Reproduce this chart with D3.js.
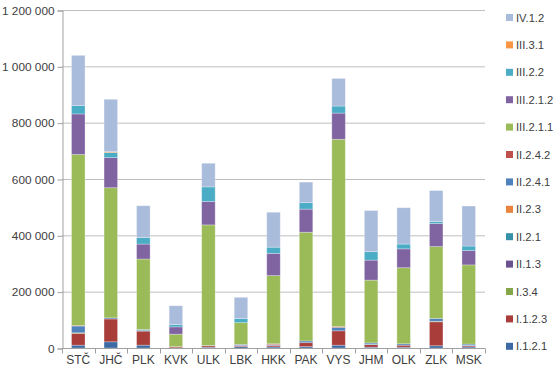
<!DOCTYPE html>
<html>
<head>
<meta charset="utf-8">
<script src="https://cdn.jsdelivr.net/npm/d3@7"></script>
<style>
body { margin: 0; background: #fff; }
text { font-family: "Liberation Sans", Arial, sans-serif; fill: #404040; }
</style>
</head>
<body>
<svg width="560" height="370"></svg>
<script>
var regions = ['STČ', 'JHČ', 'PLK', 'KVK', 'ULK', 'LBK', 'HKK', 'PAK', 'VYS', 'JHM', 'OLK', 'ZLK', 'MSK'];
var series = ['I.1.2.1', 'I.1.2.3', 'I.3.4', 'II.1.3', 'II.2.1', 'II.2.3', 'II.2.4.1', 'II.2.4.2',
    'III.2.1.1', 'III.2.1.2', 'III.2.2', 'III.3.1', 'IV.1.2'];
var colors = ['#3c6aa5', '#a93d3a', '#86a64a', '#6a5190', '#3590a8', '#e8823c', '#4f81bd', '#c0504d',
    '#9bbb59', '#8064a2', '#4bacc6', '#f79646', '#aabcdb'];

// values per series, one per region (same order as regions)
var v_I121   = [10000, 22000, 10000, 1000, 3000, 5000, 4000, 5000, 10000, 3000, 3000, 8000, 4000];
var v_I123   = [42000, 81000, 50000, 4000, 5000, 3000, 5000, 14000, 51000, 9000, 7000, 85000, 4000];
var v_I34    = [2000, 0, 0, 0, 0, 0, 0, 0, 0, 0, 0, 2000, 0];
var v_II13   = [0, 0, 0, 0, 0, 2000, 0, 0, 0, 0, 0, 0, 0];
var v_II21   = [0, 0, 3000, 0, 0, 0, 0, 0, 0, 2000, 0, 0, 2000];
var v_II23   = [0, 0, 0, 0, 0, 0, 0, 0, 0, 0, 0, 0, 0];
var v_II241  = [24000, 4000, 3000, 0, 1000, 3000, 3000, 6000, 12000, 4000, 5000, 10000, 4000];
var v_II242  = [2000, 0, 0, 0, 0, 0, 3000, 0, 3000, 0, 0, 0, 0];
var v_III211 = [607000, 462000, 250000, 44000, 428000, 77000, 242000, 386000, 665000, 223000, 270000, 255000, 281000];
var v_III212 = [144000, 107000, 53000, 26000, 83000, 0, 79000, 82000, 93000, 71000, 67000, 82000, 51000];
var v_III22  = [30000, 18000, 23000, 8000, 52000, 15000, 22000, 23000, 25000, 30000, 17000, 7000, 16000];
var v_III31  = [0, 3000, 0, 0, 0, 0, 0, 0, 0, 0, 0, 0, 0];
var v_IV12   = [178000, 186000, 113000, 67000, 84000, 75000, 124000, 73000, 98000, 146000, 129000, 110000, 142000];

var yTicks = [0, 200000, 400000, 600000, 800000, 1000000, 1200000];

var allValues = [v_I121, v_I123, v_I34, v_II13, v_II21, v_II23, v_II241, v_II242,
    v_III211, v_III212, v_III22, v_III31, v_IV12];

var rows = regions.map(function (r, i) {
    var row = { region: r };
    series.forEach(function (s, k) { row[s] = allValues[k][i]; });
    return row;
});

var margin = { left: 62, right: 75, top: 10, bottom: 22 };
var W = 560, H = 370;
var svg = d3.select('svg');

var x = d3.scaleBand()
    .domain(regions)
    .range([margin.left, W - margin.right])
    .paddingInner(0.585)
    .paddingOuter(0.2925);

var y = d3.scaleLinear()
    .domain([0, 1200000])
    .range([H - margin.bottom, margin.top]);

var fmt = function (d) { return d3.format(',')(d).replace(/,/g, ' '); };

// gridlines
svg.append('g')
    .selectAll('line')
    .data(yTicks.slice(1))
    .enter().append('line')
    .attr('x1', margin.left).attr('x2', W - margin.right)
    .attr('y1', function (d) { return y(d) + 0.5; })
    .attr('y2', function (d) { return y(d) + 0.5; })
    .attr('stroke', '#bebebe').attr('stroke-width', 1);

var yAxis = svg.append('g')
    .attr('transform', 'translate(' + (margin.left + 0.5) + ',0.5)')
    .call(d3.axisLeft(y).tickValues(yTicks).tickFormat(fmt).tickSize(5).tickPadding(3));
yAxis.selectAll('line, path').attr('stroke', '#a0a0a0');
yAxis.selectAll('text').attr('font-size', 11.8).attr('fill', '#404040')
    .attr('font-family', '"Liberation Sans", Arial, sans-serif');

var stack = d3.stack().keys(series);
var layers = stack(rows);

svg.append('g')
    .selectAll('g')
    .data(layers)
    .enter().append('g')
    .attr('fill', function (d, i) { return colors[i]; })
    .selectAll('rect')
    .data(function (d) { return d; })
    .enter().append('rect')
    .filter(function (d) { return d[1] - d[0] > 0; })
    .attr('x', function (d) { return x(d.data.region); })
    .attr('y', function (d) { return y(d[1]); })
    .attr('width', x.bandwidth())
    .attr('height', function (d) { return y(d[0]) - y(d[1]); })
    .attr('stroke', 'rgba(255,255,255,0.35)')
    .attr('stroke-width', 0.8);

// x axis
var xAxisG = svg.append('g')
    .attr('transform', 'translate(0,' + (y(0) + 0.5) + ')');
xAxisG.append('line')
    .attr('x1', margin.left).attr('x2', W - margin.right)
    .attr('stroke', '#a0a0a0');
var step = x.step();
xAxisG.selectAll('line.tick')
    .data(d3.range(regions.length + 1))
    .enter().append('line')
    .attr('class', 'tick')
    .attr('x1', function (i) { return Math.round(margin.left + i * step) + 0.5; })
    .attr('x2', function (i) { return Math.round(margin.left + i * step) + 0.5; })
    .attr('y1', 0).attr('y2', 5)
    .attr('stroke', '#a0a0a0');
xAxisG.selectAll('text')
    .data(regions)
    .enter().append('text')
    .attr('x', function (d) { return x(d) + x.bandwidth() / 2; })
    .attr('y', 15)
    .attr('text-anchor', 'middle')
    .attr('font-size', 12)
    .text(function (d) { return d; });

// legend, top entry is the last series
var legend = svg.append('g');
var legendItems = series.slice().reverse();
legend.selectAll('g')
    .data(legendItems)
    .enter().append('g')
    .attr('transform', function (d, i) { return 'translate(506,' + (17.5 + i * 27.4) + ')'; })
    .each(function (d) {
        var g = d3.select(this);
        g.append('rect')
            .attr('x', 0).attr('y', -3.5)
            .attr('width', 7).attr('height', 7)
            .attr('fill', colors[series.indexOf(d)]);
        g.append('text')
            .attr('x', 10).attr('y', 4)
            .attr('font-size', 11.2)
            .text(d);
    });
</script>
</body>
</html>
